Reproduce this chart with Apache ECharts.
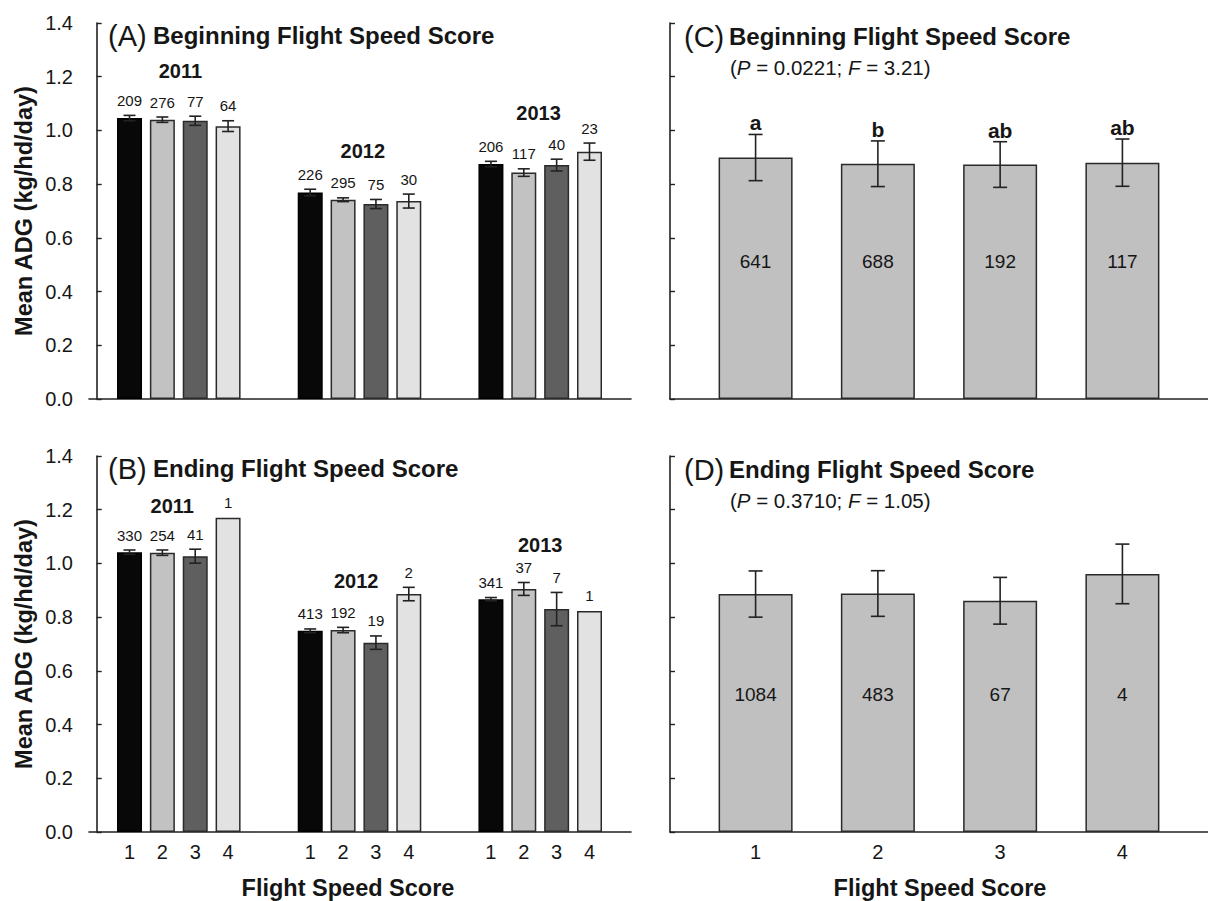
<!DOCTYPE html>
<html><head><meta charset="utf-8">
<script src="https://cdn.jsdelivr.net/npm/echarts@6/dist/echarts.min.js"></script>
<style>html,body{margin:0;padding:0;background:#fff}#c{width:1208px;height:901px}</style>
</head><body><div id="c"></div>
<script>
// ---------- data ----------
const scores = ['1', '2', '3', '4'];
const years = ['2011', '2012', '2013'];
const yTicks = [0, 0.2, 0.4, 0.6, 0.8, 1.0, 1.2, 1.4];

// Panel A: beginning flight speed score, by year (rows = years, cols = score 1..4)
const begMean = [[1.046, 1.040, 1.036, 1.016], [0.769, 0.742, 0.726, 0.737], [0.875, 0.843, 0.871, 0.921]];
const begSE   = [[0.010, 0.010, 0.017, 0.020], [0.012, 0.007, 0.017, 0.026], [0.010, 0.014, 0.022, 0.032]];
const begN    = [[209, 276, 77, 64], [226, 295, 75, 30], [206, 117, 40, 23]];

// Panel B: ending flight speed score, by year
const endMean = [[1.042, 1.040, 1.027, 1.170], [0.749, 0.752, 0.705, 0.886], [0.867, 0.905, 0.830, 0.823]];
const endSE   = [[0.008, 0.010, 0.026, 0], [0.007, 0.010, 0.025, 0.025], [0.006, 0.024, 0.062, 0]];
const endN    = [[330, 254, 41, 1], [413, 192, 19, 2], [341, 37, 7, 1]];

// Panel C: pooled beginning score
const cMean = [0.899, 0.876, 0.873, 0.880];
const cSE   = [0.086, 0.085, 0.085, 0.088];
const cN    = [641, 688, 192, 117];
const cLetters = ['a', 'b', 'ab', 'ab'];
const cStats = '({i|P} = 0.0221; {i|F} = 3.21)';

// Panel D: pooled ending score
const dMean = [0.886, 0.888, 0.861, 0.961];
const dSE   = [0.086, 0.085, 0.087, 0.111];
const dN    = [1084, 483, 67, 4];
const dStats = '({i|P} = 0.3710; {i|F} = 1.05)';

// ---------- layout / style ----------
const FONT = '"Liberation Sans", Arial, Helvetica, sans-serif';
const INK = '#161616';
const barColors = ['#080808', '#c2c2c2', '#5f5f5f', '#e2e2e2'];
const yearLabelPosA = [[2.55, 1.221], [8.1, 0.925], [13.45, 1.064]];
const yearLabelPosB = [[2.3, 1.212], [7.9, 0.935], [13.5, 1.07]];
const nInsideLevel = 0.512;

function xPos(g, s) { return 1 + s + g * 5.5; }
const groupedTickPos = [];
years.forEach((y, g) => scores.forEach((sc, s) => groupedTickPos.push(xPos(g, s))));

function groupedBars(means) {
  const d = [];
  means.forEach((row, g) => row.forEach((m, s) => d.push({
    value: [xPos(g, s), m],
    itemStyle: { color: barColors[s], borderColor: s === 0 ? '#000' : '#2a2a2a', borderWidth: 1.5 }
  })));
  return d;
}
function groupedErr(means, ses) {
  const d = [];
  means.forEach((row, g) => row.forEach((m, s) => d.push([xPos(g, s), m, ses[g][s]])));
  return d;
}
function flat(arr) { const o = []; arr.forEach(r => r.forEach(v => o.push(String(v)))); return o; }

function errRender(labels, capHalf, labelOffset, labelFont, inside) {
  return function (params, api) {
    const x = api.value(0), m = api.value(1), e = api.value(2);
    const top = api.coord([x, m + e]);
    const bot = api.coord([x, m - e]);
    const st = { stroke: '#222', lineWidth: 1.6 };
    const ch = [];
    if (e > 0) {
      ch.push({ type: 'line', shape: { x1: top[0], y1: top[1], x2: bot[0], y2: bot[1] }, style: st });
      ch.push({ type: 'line', shape: { x1: top[0] - capHalf, y1: top[1], x2: top[0] + capHalf, y2: top[1] }, style: st });
      ch.push({ type: 'line', shape: { x1: bot[0] - capHalf, y1: bot[1], x2: bot[0] + capHalf, y2: bot[1] }, style: st });
    }
    ch.push({ type: 'text', style: { text: labels[params.dataIndex], x: top[0], y: top[1] - labelOffset,
      align: 'center', verticalAlign: labelOffset < 8 ? 'bottom' : 'middle', font: labelFont, fill: INK } });
    if (inside) {
      const p = api.coord([x, nInsideLevel]);
      ch.push({ type: 'text', style: { text: inside[params.dataIndex], x: p[0], y: p[1],
        align: 'center', verticalAlign: 'middle', font: '19px ' + FONT, fill: INK } });
    }
    return { type: 'group', children: ch };
  };
}
function yearRender(params, api) {
  const p = api.coord([api.value(0), api.value(1)]);
  return { type: 'text', style: { text: years[params.dataIndex], x: p[0], y: p[1], align: 'center',
    verticalAlign: 'middle', font: 'bold 20px ' + FONT, fill: INK } };
}

const axisLine = { show: true, lineStyle: { color: '#222', width: 1.6 } };
function yAxis(grid, labels) {
  return {
    type: 'value', gridIndex: grid, min: 0, max: 1.4, interval: 0.2,
    axisLine: axisLine, splitLine: { show: false },
    axisTick: { show: true, inside: true, length: 5, lineStyle: { color: '#222', width: 1.4 } },
    axisLabel: { show: labels, margin: 16, fontSize: 20, fontFamily: FONT, color: INK,
      formatter: v => v.toFixed(1) }
  };
}
function xAxis(grid, min, max, labelVals, labelFn) {
  return {
    type: 'value', gridIndex: grid, min: min, max: max,
    axisLine: axisLine, axisTick: { show: false }, splitLine: { show: false },
    axisLabel: labelVals ? { show: true, customValues: labelVals, formatter: labelFn, margin: 10,
      fontSize: 20, fontFamily: FONT, color: INK } : { show: false }
  };
}
const groupedLabelFn = v => { const i = groupedTickPos.findIndex(p => Math.abs(p - v) < 1e-6); return i < 0 ? '' : scores[i % 4]; };
const pooledLabelFn = v => scores[Math.round(v) - 1] || '';

function titleTexts(letter, title, x0, yc, stats) {
  const arr = [
    { type: 'text', x: x0, y: yc, style: { text: '(' + letter + ')', font: '29px ' + FONT, fill: INK, verticalAlign: 'middle' } },
    { type: 'text', x: x0 + 45, y: yc - 1, style: { text: title, font: 'bold 24px ' + FONT, fill: INK, verticalAlign: 'middle' } }
  ];
  if (stats) arr.push({ type: 'text', x: x0 + 46, y: yc + 30, style: { text: stats, font: '20.5px ' + FONT, fill: INK,
    verticalAlign: 'middle', rich: { i: { fontStyle: 'italic', fontSize: 20.5, fontFamily: FONT, fill: INK } } } });
  return arr;
}

const option = {
  backgroundColor: '#ffffff',
  animation: false,
  grid: [
    { left: 89, top: 23, width: 542, height: 376 },
    { left: 89, top: 456, width: 542, height: 376 },
    { left: 670, top: 23, width: 540, height: 376 },
    { left: 670, top: 456, width: 540, height: 376 }
  ],
  xAxis: [
    xAxis(0, -0.233, 16.263, null),
    xAxis(1, -0.233, 16.263, groupedTickPos, groupedLabelFn),
    xAxis(2, 0.3, 4.7, null),
    xAxis(3, 0.3, 4.7, [1, 2, 3, 4], pooledLabelFn)
  ],
  yAxis: [yAxis(0, true), yAxis(1, true), yAxis(2, false), yAxis(3, false)],
  series: [
    { type: 'bar', xAxisIndex: 0, yAxisIndex: 0, barWidth: 25, data: groupedBars(begMean) },
    { type: 'custom', xAxisIndex: 0, yAxisIndex: 0, z: 5, data: groupedErr(begMean, begSE),
      renderItem: errRender(flat(begN), 6, 15, '15px ' + FONT) },
    { type: 'custom', xAxisIndex: 0, yAxisIndex: 0, z: 5, data: yearLabelPosA, renderItem: yearRender },

    { type: 'bar', xAxisIndex: 1, yAxisIndex: 1, barWidth: 25, data: groupedBars(endMean) },
    { type: 'custom', xAxisIndex: 1, yAxisIndex: 1, z: 5, data: groupedErr(endMean, endSE),
      renderItem: errRender(flat(endN), 6, 15, '15px ' + FONT) },
    { type: 'custom', xAxisIndex: 1, yAxisIndex: 1, z: 5, data: yearLabelPosB, renderItem: yearRender },

    { type: 'bar', xAxisIndex: 2, yAxisIndex: 2, barWidth: 74,
      itemStyle: { color: '#c0c0c0', borderColor: '#2a2a2a', borderWidth: 1.5 },
      data: cMean.map((m, i) => [i + 1, m]) },
    { type: 'custom', xAxisIndex: 2, yAxisIndex: 2, z: 5, data: cMean.map((m, i) => [i + 1, m, cSE[i]]),
      renderItem: errRender(cLetters, 7, 1, 'bold 21px ' + FONT, cN.map(String)) },

    { type: 'bar', xAxisIndex: 3, yAxisIndex: 3, barWidth: 74,
      itemStyle: { color: '#c0c0c0', borderColor: '#2a2a2a', borderWidth: 1.5 },
      data: dMean.map((m, i) => [i + 1, m]) },
    { type: 'custom', xAxisIndex: 3, yAxisIndex: 3, z: 5, data: dMean.map((m, i) => [i + 1, m, dSE[i]]),
      renderItem: errRender(['', '', '', ''], 7, 1, 'bold 21px ' + FONT, dN.map(String)) }
  ],
  graphic: [].concat(
    titleTexts('A', 'Beginning Flight Speed Score', 108, 36),
    titleTexts('B', 'Ending Flight Speed Score', 108, 469),
    titleTexts('C', 'Beginning Flight Speed Score', 684, 37, cStats),
    titleTexts('D', 'Ending Flight Speed Score', 684, 470, dStats),
    [
      { type: 'text', x: 24, y: 211, rotation: Math.PI / 2, style: { text: 'Mean ADG (kg/hd/day)', font: 'bold 23.5px ' + FONT, fill: INK, align: 'center', verticalAlign: 'middle' } },
      { type: 'text', x: 24, y: 644, rotation: Math.PI / 2, style: { text: 'Mean ADG (kg/hd/day)', font: 'bold 23.5px ' + FONT, fill: INK, align: 'center', verticalAlign: 'middle' } },
      { type: 'text', x: 348, y: 888, style: { text: 'Flight Speed Score', font: 'bold 23.5px ' + FONT, fill: INK, align: 'center', verticalAlign: 'middle' } },
      { type: 'text', x: 940, y: 888, style: { text: 'Flight Speed Score', font: 'bold 23.5px ' + FONT, fill: INK, align: 'center', verticalAlign: 'middle' } }
    ]
  )
};
const chart = echarts.init(document.getElementById('c'), null, { renderer: 'svg' });
chart.setOption(option);
</script></body></html>
